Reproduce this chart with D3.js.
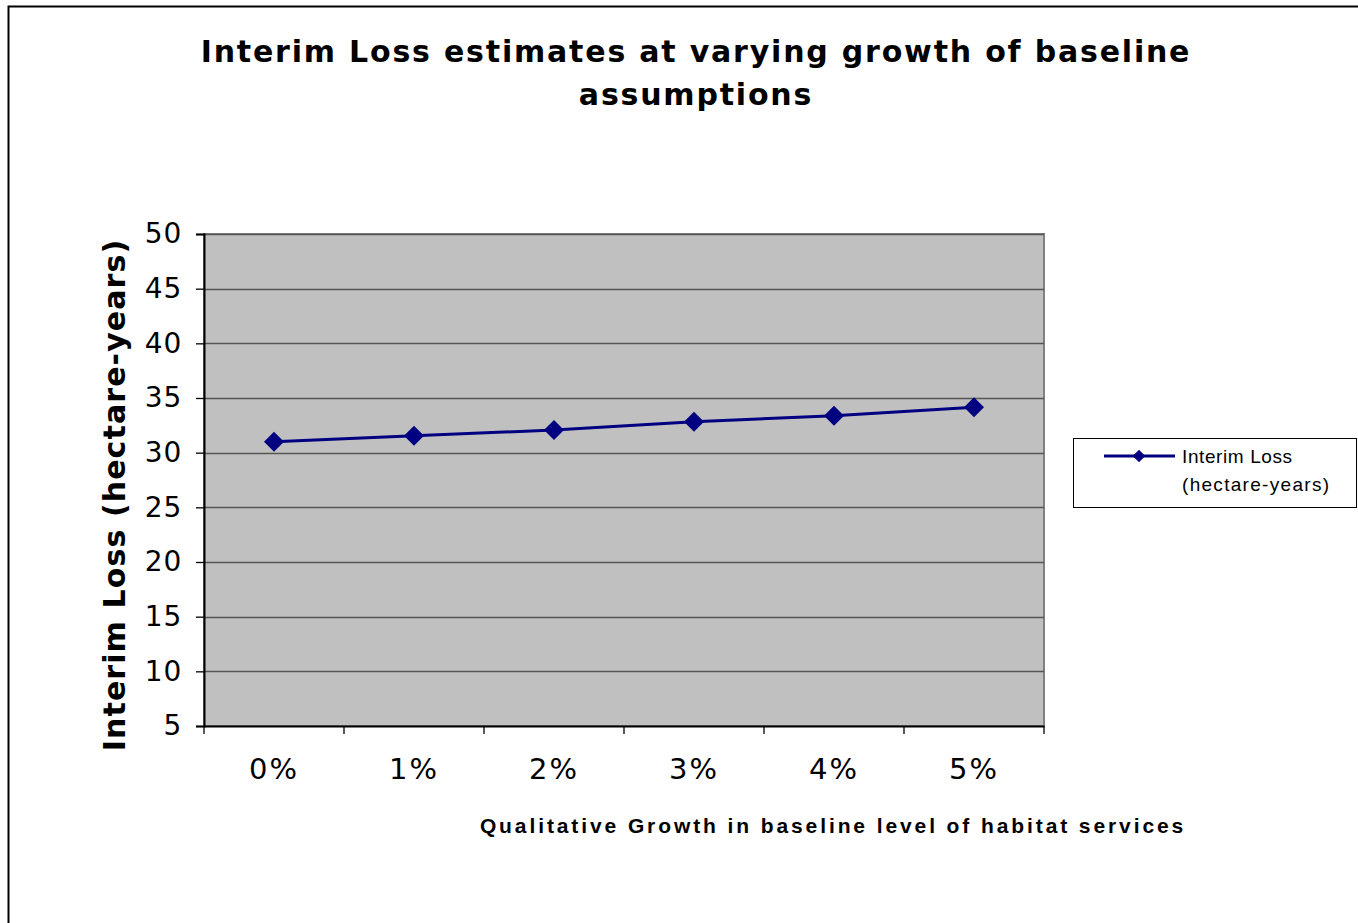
<!DOCTYPE html>
<html>
<head>
<meta charset="utf-8">
<script src="https://cdn.jsdelivr.net/npm/d3@7"></script>
<style>
  html, body { margin: 0; padding: 0; background: #fff; }
  svg { display: block; }
</style>
</head>
<body>
<svg id="chart" width="1358" height="923"></svg>
<script>
// Growth rates applied to the baseline level of habitat services
const categories = ["0%", "1%", "2%", "3%", "4%", "5%"];
// Interim loss for each growth rate (hectare-years)
const interimLoss = [31.0, 31.55, 32.07, 32.83, 33.38, 34.15];
const yTicks = [5, 10, 15, 20, 25, 30, 35, 40, 45, 50];

const svg = d3.select("#chart");
const W = 1358, H = 923;
const plot = { left: 204, top: 234, right: 1044, bottom: 726 };

// outer chart frame
svg.append("rect")
  .attr("x", 8.5).attr("y", 6.5)
  .attr("width", W + 10).attr("height", H + 10)
  .attr("fill", "#fff").attr("stroke", "#000").attr("stroke-width", 2);

// title
const title = svg.append("text")
  .attr("text-anchor", "middle")
  .attr("font-family", "DejaVu Sans, Verdana, sans-serif")
  .attr("font-weight", "bold")
  .attr("font-size", 30)
  .attr("letter-spacing", 1.8)
  .attr("fill", "#000");
title.append("tspan").attr("x", 696).attr("y", 62).text("Interim Loss estimates at varying growth of baseline");
title.append("tspan").attr("x", 696).attr("y", 105).text("assumptions");

const x = d3.scaleBand().domain(categories).range([plot.left, plot.right]);
const y = d3.scaleLinear().domain([5, 50]).range([plot.bottom, plot.top]);

// plot area background
svg.append("rect")
  .attr("x", plot.left).attr("y", plot.top)
  .attr("width", plot.right - plot.left).attr("height", plot.bottom - plot.top)
  .attr("fill", "#c0c0c0")
  .attr("stroke", "#808080").attr("stroke-width", 2);

// horizontal gridlines
svg.append("g")
  .selectAll("line")
  .data(yTicks.filter(d => d !== 5))
  .join("line")
  .attr("x1", plot.left).attr("x2", plot.right)
  .attr("y1", d => Math.round(y(d)) + 0.5).attr("y2", d => Math.round(y(d)) + 0.5)
  .attr("stroke", "#555").attr("stroke-width", 1.3);

// y axis
const yAxis = svg.append("g")
  .attr("transform", `translate(${plot.left},0)`)
  .call(d3.axisLeft(y).tickValues(yTicks).tickSize(8).tickPadding(14));
yAxis.select(".domain").attr("stroke", "#000").attr("stroke-width", 2);
yAxis.selectAll(".tick line").attr("stroke", "#000").attr("stroke-width", 1.3);
yAxis.selectAll(".tick text")
  .attr("font-family", "DejaVu Sans, Verdana, sans-serif")
  .attr("font-size", 28).attr("letter-spacing", 0.8).attr("fill", "#000");

// x axis with ticks between categories
const xAxis = svg.append("g")
  .attr("transform", `translate(0,${plot.bottom})`)
  .call(d3.axisBottom(x).tickSize(0).tickPadding(32));
xAxis.select(".domain").attr("stroke", "#000").attr("stroke-width", 2);
xAxis.selectAll(".tick text")
  .attr("font-family", "DejaVu Sans, Verdana, sans-serif")
  .attr("font-size", 29).attr("letter-spacing", 2).attr("fill", "#000");
xAxis.selectAll(".bound")
  .data(categories.map(c => x(c)).concat([x(categories[categories.length - 1]) + x.bandwidth()]))
  .join("line")
  .attr("class", "bound")
  .attr("x1", d => d).attr("x2", d => d)
  .attr("y1", 0).attr("y2", 8)
  .attr("stroke", "#000").attr("stroke-width", 1.3);

// series line and diamond markers
const cx = d => x(d) + x.bandwidth() / 2;
const pts = categories.map((c, i) => [cx(c), y(interimLoss[i])]);
svg.append("path")
  .attr("d", d3.line()(pts))
  .attr("fill", "none").attr("stroke", "#000080").attr("stroke-width", 3);
svg.append("g")
  .selectAll("path")
  .data(pts)
  .join("path")
  .attr("transform", d => `translate(${d[0]},${d[1]}) rotate(45)`)
  .attr("d", d3.symbol().type(d3.symbolSquare).size(200))
  .attr("fill", "#000080");

// y axis title
svg.append("text")
  .attr("transform", "translate(125,495) rotate(-90)")
  .attr("text-anchor", "middle")
  .attr("font-family", "DejaVu Sans, Verdana, sans-serif")
  .attr("font-weight", "bold")
  .attr("font-size", 30)
  .attr("letter-spacing", 1.1)
  .attr("fill", "#000")
  .text("Interim Loss (hectare-years)");

// x axis title
svg.append("text")
  .attr("x", 833).attr("y", 833)
  .attr("text-anchor", "middle")
  .attr("font-family", "Liberation Sans, Arial, sans-serif")
  .attr("font-weight", "bold")
  .attr("font-size", 21)
  .attr("letter-spacing", 2.9)
  .attr("fill", "#000")
  .text("Qualitative Growth in baseline level of habitat services");

// legend
const lg = svg.append("g");
lg.append("rect")
  .attr("x", 1073.5).attr("y", 438.5).attr("width", 283).attr("height", 69)
  .attr("fill", "#fff").attr("stroke", "#000").attr("stroke-width", 1);
lg.append("line")
  .attr("x1", 1104).attr("x2", 1175).attr("y1", 456).attr("y2", 456)
  .attr("stroke", "#000080").attr("stroke-width", 3);
lg.append("path")
  .attr("transform", "translate(1139,456) rotate(45)")
  .attr("d", d3.symbol().type(d3.symbolSquare).size(80))
  .attr("fill", "#000080");
const lt = lg.append("text")
  .attr("font-family", "Liberation Sans, Arial, sans-serif")
  .attr("font-size", 19)
  .attr("fill", "#000");
lt.append("tspan").attr("x", 1182).attr("y", 463).attr("letter-spacing", 0.6).text("Interim Loss");
lt.append("tspan").attr("x", 1182).attr("y", 491).attr("letter-spacing", 1.3).text("(hectare-years)");
</script>
</body>
</html>
